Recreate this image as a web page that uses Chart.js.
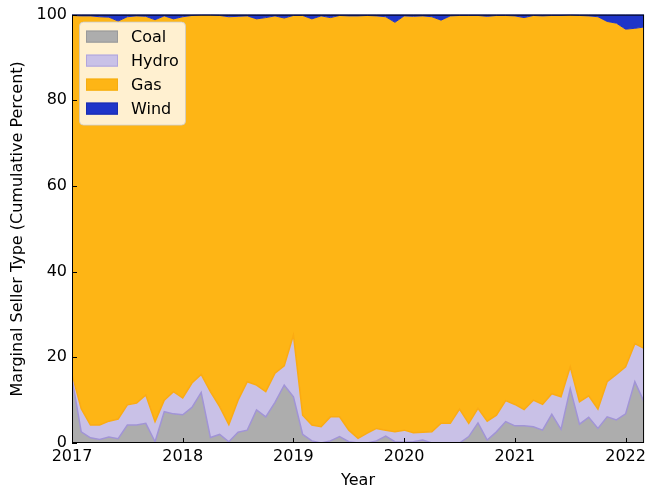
<!DOCTYPE html>
<html>
<head>
<meta charset="utf-8">
<script src="https://cdn.jsdelivr.net/npm/chart.js@4"></script>
<style>
  html, body { margin: 0; padding: 0; background: #fff; }
</style>
</head>
<body>
<canvas id="seller-chart" width="650" height="492"></canvas>
<script>
// monthly shares, Jan 2017 .. Mar 2022 (percent)
const startYear = 2017;
const yearTicks = [2017, 2018, 2019, 2020, 2021, 2022];
const seriesNames = ["Coal", "Hydro", "Gas", "Wind"];

const coal = [
  15.0, 2.6, 1.2, 0.8, 1.4, 1.0, 4.2, 4.2, 4.6, 0.3, 7.3, 6.8,
  6.6, 8.3, 11.8, 1.3, 2.0, 0.3, 2.5, 3.0, 7.7, 6.1, 9.5, 13.5,
  10.8, 2.0, 0.5, 0.0, 0.5, 1.5, 0.3, 0.0, 0.0, 0.5, 1.6, 0.3,
  0.2, 0.3, 0.7, 0.0, 0.0, 0.0, 0.0, 1.5, 4.7, 0.7, 2.6, 5.0,
  4.0, 4.0, 3.8, 3.0, 6.7, 3.2, 12.7, 4.4, 6.0, 3.4, 6.1, 5.4,
  6.8, 14.3, 9.6,
];
const hydro = [
  1.0, 5.4, 3.0, 3.4, 3.7, 4.6, 4.7, 5.1, 6.6, 4.7, 2.7, 5.2,
  3.9, 5.7, 4.2, 10.7, 6.5, 4.0, 7.5, 11.3, 5.8, 5.9, 6.8, 4.5,
  14.4, 4.5, 3.7, 3.8, 5.6, 4.6, 2.7, 1.1, 2.3, 2.9, 1.4, 2.3,
  2.8, 2.1, 1.8, 2.6, 4.6, 4.6, 7.9, 3.1, 3.4, 4.4, 3.9, 4.9,
  5.0, 3.8, 6.2, 6.0, 4.8, 7.6, 5.1, 5.2, 5.0, 4.5, 8.2, 10.6,
  11.0, 8.9, 12.5,
];
const gas = [
  83.8, 91.7, 95.5, 95.3, 94.3, 92.9, 90.6, 90.4, 88.4, 93.8, 89.7, 87.0,
  89.0, 85.8, 83.9, 87.9, 91.3, 95.2, 89.6, 85.4, 85.5, 87.3, 83.4, 81.2,
  74.6, 93.3, 94.8, 95.9, 93.2, 93.7, 96.7, 98.6, 97.5, 96.3, 96.5, 95.6,
  96.7, 97.2, 97.2, 96.9, 94.1, 95.1, 91.9, 95.2, 91.7, 94.5, 93.3, 89.9,
  90.7, 91.5, 89.8, 90.7, 88.3, 89.0, 82.1, 90.2, 88.7, 91.6, 84.1, 82.0,
  78.8, 73.6, 75.0,
];
const wind = [
  0.2, 0.3, 0.3, 0.5, 0.6, 1.5, 0.5, 0.3, 0.4, 1.2, 0.3, 1.0,
  0.5, 0.2, 0.1, 0.1, 0.2, 0.5, 0.4, 0.3, 1.0, 0.7, 0.3, 0.8,
  0.2, 0.2, 1.0, 0.3, 0.7, 0.2, 0.3, 0.3, 0.2, 0.3, 0.5, 1.8,
  0.3, 0.4, 0.3, 0.5, 1.3, 0.3, 0.2, 0.2, 0.2, 0.4, 0.2, 0.2,
  0.3, 0.7, 0.2, 0.3, 0.2, 0.2, 0.1, 0.2, 0.3, 0.5, 1.6, 2.0,
  3.4, 3.2, 2.9,
];

const toPoints = (arr) => arr.map((v, i) => ({ x: startYear + i / 12, y: v }));

const frameAndLegend = {
  id: "frameAndLegend",
  afterDraw(chart) {
    const { ctx, chartArea: a, scales } = chart;
    ctx.save();
    ctx.strokeStyle = "#000";
    ctx.lineWidth = 1;
    ctx.beginPath();
    scales.x.ticks.forEach((t) => {
      const px = Math.round(scales.x.getPixelForValue(t.value)) + 0.5;
      ctx.moveTo(px, a.bottom);
      ctx.lineTo(px, a.bottom - 5);
    });
    scales.y.ticks.forEach((t) => {
      const py = Math.round(scales.y.getPixelForValue(t.value)) + 0.5;
      ctx.moveTo(a.left, py);
      ctx.lineTo(a.left + 5, py);
    });
    ctx.stroke();
    ctx.strokeRect(a.left + 0.5, a.top + 0.5, a.right - a.left - 1, a.bottom - a.top - 1);

    // legend box, upper left inside the axes
    const bx = a.left + 7, by = a.top + 7, bw = 106, bh = 103;
    ctx.beginPath();
    ctx.roundRect(bx + 0.5, by + 0.5, bw, bh, 4);
    ctx.fillStyle = "rgba(255,255,255,0.8)";
    ctx.fill();
    ctx.strokeStyle = "rgba(204,204,204,0.8)";
    ctx.stroke();
    ctx.font = "16px 'DejaVu Sans'";
    ctx.textBaseline = "middle";
    chart.data.datasets.forEach((ds, i) => {
      const cy = by + 15 + i * 24;
      ctx.fillStyle = ds.backgroundColor;
      ctx.fillRect(bx + 7, cy - 6, 32, 12);
      ctx.strokeStyle = ds.edge;
      ctx.lineWidth = 1;
      ctx.strokeRect(bx + 7.5, cy - 5.5, 31, 11);
      ctx.fillStyle = "#000";
      ctx.fillText(ds.label, bx + 52, cy + 1);
    });
    ctx.restore();
  },
};

Chart.defaults.font.family = "'DejaVu Sans'";
Chart.defaults.font.size = 16;
Chart.defaults.color = "#000";

const ctx = document.getElementById("seller-chart").getContext("2d");
const sellerChart = new Chart(ctx, {
  type: "line",
  data: {
    datasets: [
      {
        label: seriesNames[0],
        data: toPoints(coal),
        backgroundColor: "#adadad",
        borderColor: "#a194d6",
        edge: "#9a9a9a",
        borderWidth: 1.5,
        fill: "origin",
      },
      {
        label: seriesNames[1],
        data: toPoints(hydro),
        backgroundColor: "#c9c1e7",
        borderColor: "#fbab12",
        edge: "#b1a5dc",
        borderWidth: 1.5,
        fill: "-1",
      },
      {
        label: seriesNames[2],
        data: toPoints(gas),
        backgroundColor: "#feb515",
        borderColor: "#1f33c8",
        edge: "#f5ad10",
        borderWidth: 1,
        fill: "-1",
      },
      {
        label: seriesNames[3],
        data: toPoints(wind),
        backgroundColor: "#1f35c9",
        borderColor: "#1f33c8",
        edge: "#1a2cb0",
        borderWidth: 1,
        fill: "-1",
      },
    ],
  },
  options: {
    responsive: false,
    animation: false,
    layout: { padding: { left: 0, top: 14, right: 1, bottom: 0 } },
    elements: { point: { radius: 0 }, line: { tension: 0 } },
    plugins: {
      legend: { display: false },
      tooltip: { enabled: false },
    },
    scales: {
      x: {
        type: "linear",
        min: startYear,
        max: startYear + (coal.length - 1) / 12,
        grid: { display: false, drawTicks: false },
        border: { display: false },
        afterBuildTicks: (scale) => {
          scale.ticks = yearTicks.map((v) => ({ value: v }));
        },
        afterFit: (scale) => {
          scale.height = 49;
        },
        ticks: { padding: 4, callback: (v) => String(v) },
        title: { display: true, text: "Year", padding: { top: 0, bottom: 2 } },
      },
      y: {
        stacked: true,
        min: 0,
        max: 100,
        grid: { display: false, drawTicks: false },
        border: { display: false },
        afterFit: (scale) => {
          scale.width = 72;
        },
        ticks: { stepSize: 20, padding: 5 },
        title: {
          display: true,
          text: "Marginal Seller Type (Cumulative Percent)",
          padding: { top: 8, bottom: 0 },
        },
      },
    },
  },
  plugins: [frameAndLegend],
});
</script>
</body>
</html>
